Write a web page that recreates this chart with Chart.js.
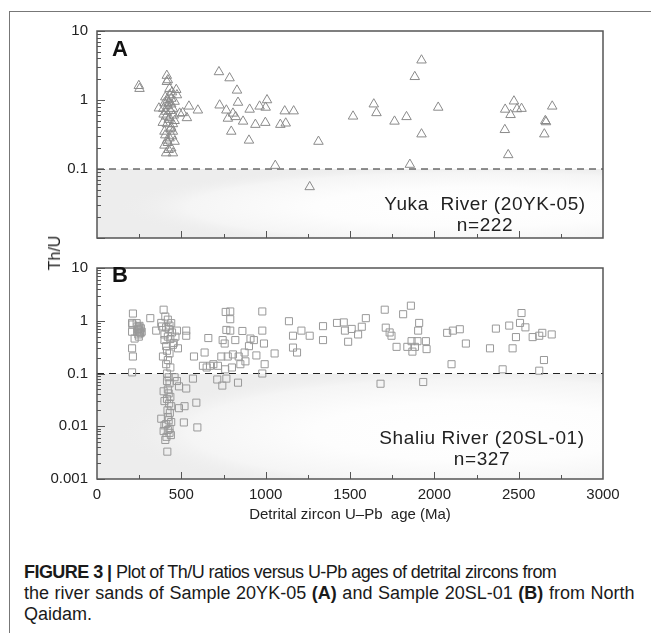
<!DOCTYPE html>
<html>
<head>
<meta charset="utf-8">
<script src="https://cdn.jsdelivr.net/npm/chart.js@4"></script>
<style>
  body { margin: 0; background: #fff; width: 651px; height: 633px; overflow: hidden; position: relative;
         font-family: "Liberation Sans", Arial, sans-serif; color: #222; }
  #frame { position: absolute; left: 9px; top: 11px; width: 700px; height: 700px;
           border-top: 1px solid #777; border-left: 1px solid #777; }
  canvas { position: absolute; left: 0; }
  .txt { position: absolute; white-space: nowrap; }
  .panel { font-weight: bold; font-size: 22px; line-height: 22px; color: #111; }
  .note { font-size: 19px; line-height: 21px; letter-spacing: 0.6px; text-align: center; width: 260px; color: #222; }
  #ytitle { left: 55px; top: 253px; font-size: 16px; transform: translate(-50%, -50%) rotate(-90deg); }
  #caption { left: 24px; top: 562px; font-size: 18px; line-height: 21px; color: #1a1a1a; }
  #caption span { display: block; }
</style>
</head>
<body>
<div id="frame"></div>
<canvas id="chartA" width="651" height="256" style="top:0"></canvas>
<canvas id="chartB" width="651" height="290" style="top:250px"></canvas>
<div class="txt panel" style="left:112px; top:38px">A</div>
<div class="txt panel" style="left:112px; top:264px">B</div>
<div class="txt note" style="left:355px; top:193px">Yuka&nbsp; River (20YK-05)<br>n=222</div>
<div class="txt note" style="left:352px; top:427px">Shaliu River (20SL-01)<br>n=327</div>
<div class="txt" id="ytitle">Th/U</div>
<div class="txt" id="caption"><span style="letter-spacing:-0.55px"><b>FIGURE 3 |</b> Plot of Th/U ratios versus U-Pb ages of detrital zircons from</span><span style="word-spacing:0.6px">the river sands of Sample 20YK-05 <b>(A)</b> and Sample 20SL-01 <b>(B)</b> from North</span><span>Qaidam.</span></div>
<script>
// Sample 20YK-05 (Yuka River): age (Ma), Th/U
const agesA = [248, 252,
  414, 414, 420, 430, 470, 474, 430, 445, 420, 440, 367, 393, 450, 490, 395, 430, 460, 390,
  440, 400, 450, 430, 420, 400, 440, 410, 450, 425, 405, 445, 415, 455, 410, 435, 420, 460,
  405, 440, 425, 410, 450, 435, 415, 460, 400, 425,
  545, 598, 533, 508,
  723, 786, 830, 727, 767, 836, 806, 822, 776, 866, 796, 901, 905, 964, 1008, 1000, 939, 998,
  1113, 1166, 1087, 1119, 1057, 1261, 1313, 1518,
  1641, 1657, 1764, 1835, 1924, 1884, 1924, 2023, 1855,
  2472, 2420, 2490, 2517, 2452, 2418, 2438, 2699, 2658, 2662, 2652];
const thuA = [1.61, 1.46,
  2.26, 1.84, 1.95, 1.46, 1.41, 1.18, 1.18, 1.3, 1.0, 0.87, 0.76, 0.75, 0.75, 0.64, 0.62, 0.55, 0.5, 0.47,
  0.4, 0.35, 0.35, 0.28, 0.24, 0.22, 0.2, 0.17, 0.17, 0.19, 0.31, 0.3, 0.45, 0.6, 0.68, 0.7, 0.82, 0.95,
  1.1, 1.05, 0.52, 0.58, 0.45, 0.38, 0.26, 0.25, 0.9, 0.92,
  0.81, 0.71, 0.55, 0.65,
  2.55, 2.08, 1.38, 0.84, 0.71, 0.92, 0.64, 0.57, 0.54, 0.49, 0.35, 0.26, 0.73, 0.81, 1.0, 0.78, 0.44, 0.47,
  0.69, 0.69, 0.44, 0.46, 0.112, 0.055, 0.25, 0.58,
  0.87, 0.65, 0.49, 0.57, 3.77, 2.17, 0.32, 0.78, 0.116,
  0.96, 0.73, 0.74, 0.75, 0.61, 0.37, 0.16, 0.81, 0.5, 0.48, 0.32];

// Sample 20SL-01 (Shaliu River): age (Ma), Th/U
const agesB = [213, 208, 210, 208, 223, 208, 213, 208,
  240, 245, 250, 255, 245, 260, 238, 252, 248, 258, 242, 250, 265, 235,
  316,
  395, 381, 351, 430, 474, 400, 410, 480, 391, 410, 415, 415, 474, 486, 395, 400, 440, 486, 381, 400,
  420, 395, 412, 430, 417,
  405, 420, 440, 410, 425, 445, 400, 420, 435, 455, 415, 430, 420, 435, 425, 430, 420, 425, 435, 415,
  428, 418, 432, 425, 440, 410, 430, 420, 438, 405, 460, 450, 385, 465,
  529, 529, 515, 595, 529, 569, 519, 589, 575, 638, 660, 628, 670, 717, 737, 713, 743, 767, 836,
  650, 690, 760, 800, 850, 880,
  763, 790, 790, 767, 790, 862, 757, 820, 745, 775, 806, 840, 875, 901, 930, 910, 945, 980, 990,
  994, 980, 980, 1053, 1138, 1162, 1162, 1186, 1212, 1261, 1340, 1340, 1423, 1463, 1470, 1489, 1510,
  1548, 1594, 1570, 1706, 1712, 1746, 1735, 1776, 1815, 1861, 1840, 1865, 1870, 1904, 1910, 1900,
  1954, 1950, 1885, 2076, 2110, 2151, 2187, 2102, 1681, 1934,
  2330, 2365, 2444, 2464, 2484, 2508, 2517, 2540, 2583, 2622, 2640, 2696, 2650, 2622, 2405];
const thuB = [1.37, 0.91, 0.85, 0.62, 0.46, 0.30, 0.21, 0.105,
  0.78, 0.7, 0.65, 0.6, 0.55, 0.72, 0.62, 0.8, 0.5, 0.58, 0.68, 0.75, 0.62, 0.9,
  1.12,
  1.62, 0.91, 0.65, 0.81, 0.65, 0.43, 0.33, 0.30, 0.21, 0.15, 0.10, 0.072, 0.072, 0.057, 0.046, 0.030, 0.024, 0.022, 0.0139, 0.0104,
  0.015, 0.0081, 0.0063, 0.0075, 0.0033,
  1.2, 1.05, 0.9, 0.75, 0.7, 0.6, 0.55, 0.5, 0.45, 0.38, 0.27, 0.24, 0.18, 0.13, 0.085, 0.065, 0.05, 0.042, 0.036, 0.033,
  0.027, 0.02, 0.018, 0.013, 0.012, 0.011, 0.009, 0.0085, 0.0068, 0.0055, 0.085, 0.35, 0.78, 0.5,
  0.65, 0.52, 0.0118, 0.0095, 0.052, 0.08, 0.024, 0.028, 0.21, 0.25, 0.47, 0.14, 0.14, 0.14, 0.21, 0.077, 0.059, 0.08, 0.067,
  0.13, 0.15, 0.12, 0.13, 0.15, 0.17,
  1.47, 1.5, 1.07, 0.67, 0.65, 0.64, 0.37, 0.43, 0.43, 0.21, 0.23, 0.21, 0.25, 0.33, 0.43, 0.46, 0.22, 0.65, 0.37,
  0.15, 0.10, 1.5, 0.24, 0.98, 0.52, 0.31, 0.25, 0.65, 0.52, 0.79, 0.43, 0.91, 0.93, 0.65, 0.40, 0.7,
  0.55, 1.12, 0.77, 1.62, 0.74, 0.52, 0.6, 0.32, 1.33, 1.93, 0.32, 0.41, 0.26, 0.65, 0.91, 0.41,
  0.29, 0.41, 0.32, 0.59, 0.65, 0.69, 0.37, 0.15, 0.064, 0.069,
  0.30, 0.71, 0.81, 0.30, 0.49, 0.91, 1.4, 0.75, 0.49, 0.52, 0.59, 0.55, 0.18, 0.113, 0.12];

const xTickVals = [0, 500, 1000, 1500, 2000, 2500, 3000];
const xTickLabels = ['0', '500', '1000', '1500', '2000', '2500', '3000'];
const yTickValsA = [10, 1, 0.1];
const yTickLabelsA = ['10', '1', '0.1'];
const yTickValsB = [10, 1, 0.1, 0.01, 0.001];
const yTickLabelsB = ['10', '1', '0.1', '0.01', '0.001'];
const cutoff = 0.1;

const tickFont = { family: '"Liberation Sans", Arial, sans-serif', size: 15 };

// shaded low Th/U field, dashed cutoff, frame and inward ticks
const panelDeco = {
  id: 'panelDeco',
  beforeDatasetsDraw(chart) {
    const { ctx, chartArea: a, scales: { x, y } } = chart;
    const y0 = y.getPixelForValue(cutoff);
    const h = a.bottom - y0;
    ctx.save();
    ctx.beginPath();
    ctx.rect(a.left, y0, a.width, h);
    ctx.clip();
    ctx.fillStyle = '#ededed';
    ctx.fillRect(a.left, y0, a.width, h);
    const cx = x.getPixelForValue(2250), cy = y0 + h * 0.55;
    const rx = 360, ry = h * 0.62;
    ctx.translate(cx, cy);
    ctx.scale(1, ry / rx);
    const g = ctx.createRadialGradient(0, 0, 0, 0, 0, rx);
    g.addColorStop(0, '#ffffff');
    g.addColorStop(0.45, '#fdfdfd');
    g.addColorStop(0.8, '#f5f5f5');
    g.addColorStop(1, 'rgba(237,237,237,0)');
    ctx.fillStyle = g;
    ctx.beginPath();
    ctx.arc(0, 0, rx, 0, Math.PI * 2);
    ctx.fill();
    ctx.restore();

    ctx.save();
    ctx.strokeStyle = '#222';
    ctx.lineWidth = 1.2;
    ctx.setLineDash([7, 5]);
    ctx.beginPath();
    ctx.moveTo(a.left, y0);
    ctx.lineTo(a.right, y0);
    ctx.stroke();
    ctx.restore();
  },
  afterDatasetsDraw(chart) {
    const { ctx, chartArea: a, scales: { x, y } } = chart;
    ctx.save();
    ctx.strokeStyle = '#555';
    ctx.lineWidth = 1;
    ctx.beginPath();
    // y: log minor ticks inside left edge
    const lo = Math.round(Math.log10(y.min)), hi = Math.round(Math.log10(y.max));
    for (let e = lo; e <= hi; e++) {
      for (let k = 1; k <= 9; k++) {
        const v = k * Math.pow(10, e);
        if (v < y.min * 0.999 || v > y.max * 1.001) continue;
        const py = Math.round(y.getPixelForValue(v)) + 0.5;
        const len = k === 1 ? 8 : 4;
        ctx.moveTo(a.left, py);
        ctx.lineTo(a.left + len, py);
      }
    }
    // x: ticks every 250 Ma pointing up from the bottom edge
    for (let t = 250; t < 3000; t += 250) {
      const px = Math.round(x.getPixelForValue(t)) + 0.5;
      const len = t % 500 === 0 ? 7 : 4;
      ctx.moveTo(px, a.bottom);
      ctx.lineTo(px, a.bottom - len);
    }
    ctx.stroke();
    ctx.lineWidth = 1.5;
    ctx.strokeStyle = '#555';
    ctx.strokeRect(a.left, a.top, a.width, a.height);
    ctx.restore();
  }
};

function toPoints(ages, vals) {
  return ages.map((a, i) => ({ x: a, y: vals[i] }));
}

function yScale(min, max, vals, labels) {
  return {
    type: 'logarithmic',
    min: min,
    max: max,
    afterFit: s => { s.width = 97; },
    afterBuildTicks: s => { s.ticks = vals.map(v => ({ value: v })); },
    grid: { display: false, drawTicks: false },
    border: { display: false },
    ticks: {
      padding: 9,
      color: '#222',
      font: tickFont,
      callback: (v, i) => labels[i]
    }
  };
}

new Chart(document.getElementById('chartA'), {
  type: 'scatter',
  data: {
    datasets: [{
      label: '20YK-05',
      data: toPoints(agesA, thuA),
      pointStyle: 'triangle',
      pointRadius: 5.5,
      borderColor: '#8a8a8a',
      borderWidth: 1,
      backgroundColor: 'rgba(0,0,0,0)'
    }]
  },
  options: {
    responsive: false,
    animation: false,
    layout: { padding: { top: 31, right: 48, bottom: 1, left: 0 } },
    plugins: { legend: { display: false }, tooltip: { enabled: false } },
    scales: {
      x: { type: 'linear', min: 0, max: 3000, display: false },
      y: yScale(0.01, 10, yTickValsA, yTickLabelsA)
    }
  },
  plugins: [panelDeco]
});

new Chart(document.getElementById('chartB'), {
  type: 'scatter',
  data: {
    datasets: [{
      label: '20SL-01',
      data: toPoints(agesB, thuB),
      pointStyle: 'rect',
      pointRadius: 5,
      borderColor: '#999',
      borderWidth: 1,
      backgroundColor: 'rgba(0,0,0,0)'
    }]
  },
  options: {
    responsive: false,
    animation: false,
    layout: { padding: { top: 5, right: 48, bottom: 0, left: 0 } },
    plugins: { legend: { display: false }, tooltip: { enabled: false } },
    scales: {
      x: {
        type: 'linear',
        min: 0,
        max: 3000,
        afterFit: s => { s.height = 61; },
        afterBuildTicks: s => { s.ticks = xTickVals.map(v => ({ value: v })); },
        grid: { display: false, drawTicks: false },
        border: { display: false },
        ticks: {
          padding: 7,
          color: '#222',
          font: tickFont,
          maxRotation: 0,
          callback: (v, i) => xTickLabels[i]
        },
        title: {
          display: true,
          text: 'Detrital zircon U\u2013Pb  age (Ma)',
          color: '#222',
          font: tickFont,
          padding: { top: 0, bottom: 16 }
        }
      },
      y: yScale(0.001, 10, yTickValsB, yTickLabelsB)
    }
  },
  plugins: [panelDeco]
});
</script>
</body>
</html>
